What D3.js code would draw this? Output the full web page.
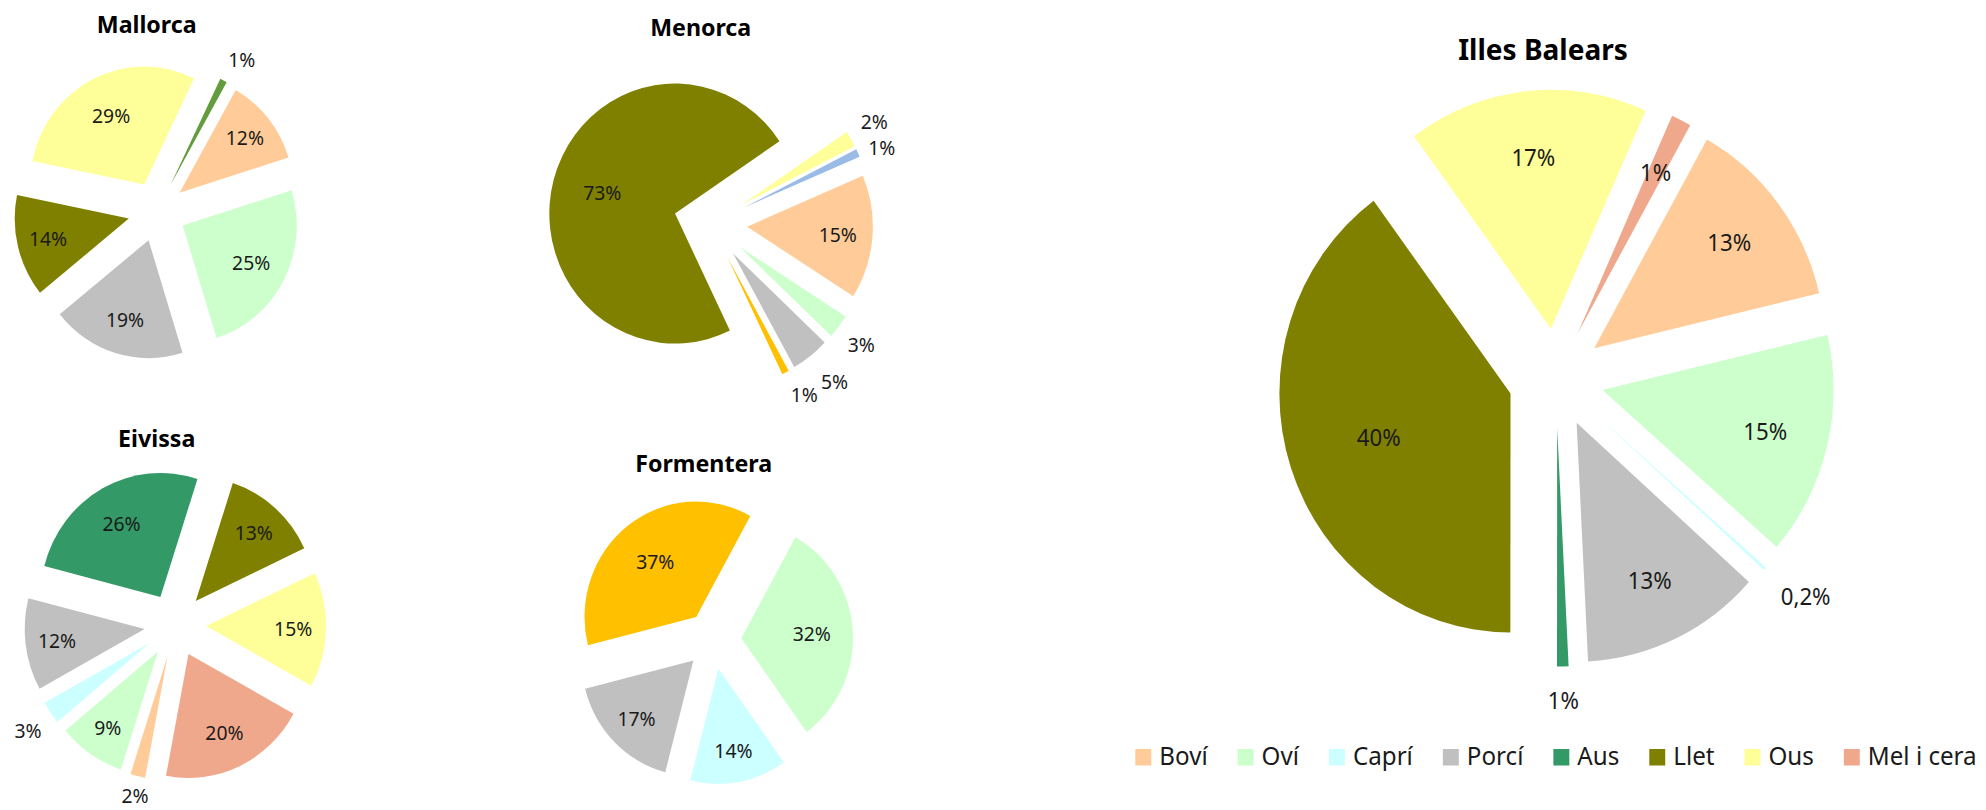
<!DOCTYPE html>
<html>
<head>
<meta charset="utf-8">
<script src="https://cdn.jsdelivr.net/npm/d3@7"></script>
<style>
  body { margin: 0; background: #fff; }
  text { font-family: "Noto Sans", sans-serif; }
</style>
</head>
<body>
<div id="chart"></div>
<script>
// categories, same order in every pie
var categories = ["Boví", "Oví", "Caprí", "Porcí", "Aus", "Llet", "Ous", "Mel i cera"];
// share of each island's livestock production (%)
var mallorca = [12, 25, 0, 19, 0, 14, 29, 1];
var menorca = [15.4, 3.0, 0, 4.9, 0.9, 72.8, 2.0, 1.0];
var eivissa = [2, 9, 3, 12, 26, 13, 15, 20];
var formentera = [0, 32, 14, 17, 37, 0, 0, 0];
var illesBalears = [13.2, 15.1, 0.2, 12.6, 0.8, 39.9, 16.8, 1.4];
var baseColors = ["#FFCC99", "#CCFFCC", "#CCFFFF", "#C0C0C0", "#339966", "#808000", "#FFFF99", "#F0A88C"];

var W = 1986, H = 810;
var SX = 0.967; // the picture is a bit squeezed sideways
var svg = d3.select("#chart").append("svg")
   .attr("width", W)
   .attr("height", H)
   .attr("viewBox", "0 0 " + (W / SX) + " " + H)
   .attr("preserveAspectRatio", "none");

// layout of each pie (x in screen pixels, divided by SX when drawn)
var charts = [
  {title: "Mallorca", values: mallorca, cx: 157, cy: 211.5, r: 118, explode: 30, start: 29.5,
   tx: 146.7, ty: 33.3, titleSize: 24, labelSize: 20, recolor: {"Mel i cera": "#629C3C"}},
  {title: "Menorca", values: menorca, cx: 710.5, cy: 223.5, r: 130, explode: 38, start: 67,
   tx: 700.7, ty: 36, titleSize: 24, labelSize: 20, recolor: {"Aus": "#FFC000", "Mel i cera": "#99BBE6"}},
  {title: "Eivissa", values: eivissa, cx: 175.3, cy: 625, r: 124, explode: 32, start: 190.8,
   tx: 156.7, ty: 447.3, titleSize: 24, labelSize: 20, recolor: {}},
  {title: "Formentera", values: formentera, cx: 713.3, cy: 640, r: 115.5, explode: 29, start: 29,
   tx: 703.7, ty: 472.3, titleSize: 24, labelSize: 20, recolor: {"Aus": "#FFC000"}},
  {title: "Illes Balears", values: illesBalears, cx: 1556, cy: 378, r: 239, explode: 49.5, start: 29.2,
   tx: 1543, ty: 60, titleSize: 29, labelSize: 23, recolor: {}, keepInside: ["Mel i cera"], legend: true}
];

function pctText(p) {
  if (Math.round(p) < 1) return d3.format(".1f")(p).replace(".", ",") + "%";
  return Math.round(p) + "%";
}

// which side of the text box sits on the anchor point
function anchorShift(m, w, h) {
  var deg = ((m * 180 / Math.PI) % 360 + 360) % 360;
  var fromVert = Math.min(deg, Math.abs(180 - deg), 360 - deg);
  var fromHorz = Math.min(Math.abs(90 - deg), Math.abs(270 - deg));
  var dx = fromVert < 25 ? 0 : (Math.sin(m) > 0 ? w / 2 : -w / 2);
  var dy = fromHorz < 25 ? 0 : (Math.cos(m) > 0 ? -h / 2 : h / 2);
  return [dx, dy];
}

charts.forEach(function (c) {
  var rows = categories.map(function (k, i) {
    return {cat: k, value: c.values[i], color: c.recolor[k] || baseColors[i]};
  });
  var total = d3.sum(rows, function (d) { return d.value; });
  var a0 = c.start * Math.PI / 180;
  var pie = d3.pie().sort(null).value(function (d) { return d.value; })
     .startAngle(a0).endAngle(a0 + 2 * Math.PI);
  var arcs = pie(rows).filter(function (d) { return d.data.value > 0; });
  var arc = d3.arc().innerRadius(0).outerRadius(c.r);

  var g = svg.append("g").attr("transform", "translate(" + (c.cx / SX) + "," + c.cy + ")");
  function mid(d) { return (d.startAngle + d.endAngle) / 2; }
  function shift(d) {
    var m = mid(d);
    return [c.explode * Math.sin(m), -c.explode * Math.cos(m)];
  }

  g.selectAll("path").data(arcs).enter().append("path")
     .attr("d", arc)
     .attr("fill", function (d) { return d.data.color; })
     .attr("transform", function (d) { return "translate(" + shift(d) + ")"; });

  var keep = c.keepInside || [];
  function isOutside(d) {
    var p = d.data.value / total * 100;
    return p < 6 && keep.indexOf(d.data.cat) < 0;
  }

  // labels inside the slices
  arcs.filter(function (d) { return !isOutside(d); }).forEach(function (d) {
    var m = mid(d), half = (d.endAngle - d.startAngle) / 2;
    var k = Math.max(0.6, 1.13 * 2 * Math.sin(half) / (3 * half));
    var s = shift(d);
    g.append("text")
       .attr("x", s[0] + k * c.r * Math.sin(m))
       .attr("y", s[1] - k * c.r * Math.cos(m))
       .attr("dy", "0.36em")
       .attr("text-anchor", "middle")
       .attr("font-size", c.labelSize)
       .attr("fill", "#1a1a1a")
       .text(pctText(d.data.value / total * 100));
  });

  // labels outside, last slice first, pushed out when they collide
  var boxes = [];
  var yMax = H - c.cy - c.labelSize * 0.7; // keep the text inside the picture
  arcs.filter(isOutside).reverse().forEach(function (d) {
    var m = mid(d), s = shift(d);
    var t = g.append("text")
       .attr("dy", "0.36em")
       .attr("text-anchor", "middle")
       .attr("font-size", c.labelSize)
       .attr("fill", "#1a1a1a")
       .text(pctText(d.data.value / total * 100));
    var w = t.node().getComputedTextLength(), h = c.labelSize * 1.15;
    var off = anchorShift(m, w, h);
    var R = 1.09 * c.r, x, y, hit;
    do {
      x = s[0] + R * Math.sin(m) + off[0];
      y = Math.min(yMax, s[1] - R * Math.cos(m) + off[1]);
      hit = boxes.some(function (b) {
        return Math.abs(b.x - x) < (b.w + w) / 2 + 2 && Math.abs(b.y - y) < (b.h + h) / 2 + 2;
      });
      R += 2;
    } while (hit);
    boxes.push({x: x, y: y, w: w, h: h});
    t.attr("x", x).attr("y", y);
  });

  svg.append("text")
     .attr("x", c.tx / SX)
     .attr("y", c.ty)
     .attr("text-anchor", "middle")
     .attr("font-size", c.titleSize)
     .attr("font-weight", "bold")
     .attr("fill", "#000")
     .text(c.title);

  if (c.legend) {
    var lg = svg.append("g");
    var x = 0, sq = 16.5, gap = 31;
    rows.forEach(function (d) {
      lg.append("rect")
         .attr("x", x).attr("y", 749).attr("width", sq).attr("height", sq)
         .attr("fill", d.color);
      var t = lg.append("text")
         .attr("x", x + 24.8).attr("y", 765.5)
         .attr("font-size", 25)
         .attr("fill", "#1a1a1a")
         .text(d.cat);
      x += 24.8 + t.node().getComputedTextLength() + gap;
    });
    var width = x - gap;
    lg.attr("transform", "translate(" + (c.cx / SX - width / 2) + ",0)");
  }
});
</script>
</body>
</html>
